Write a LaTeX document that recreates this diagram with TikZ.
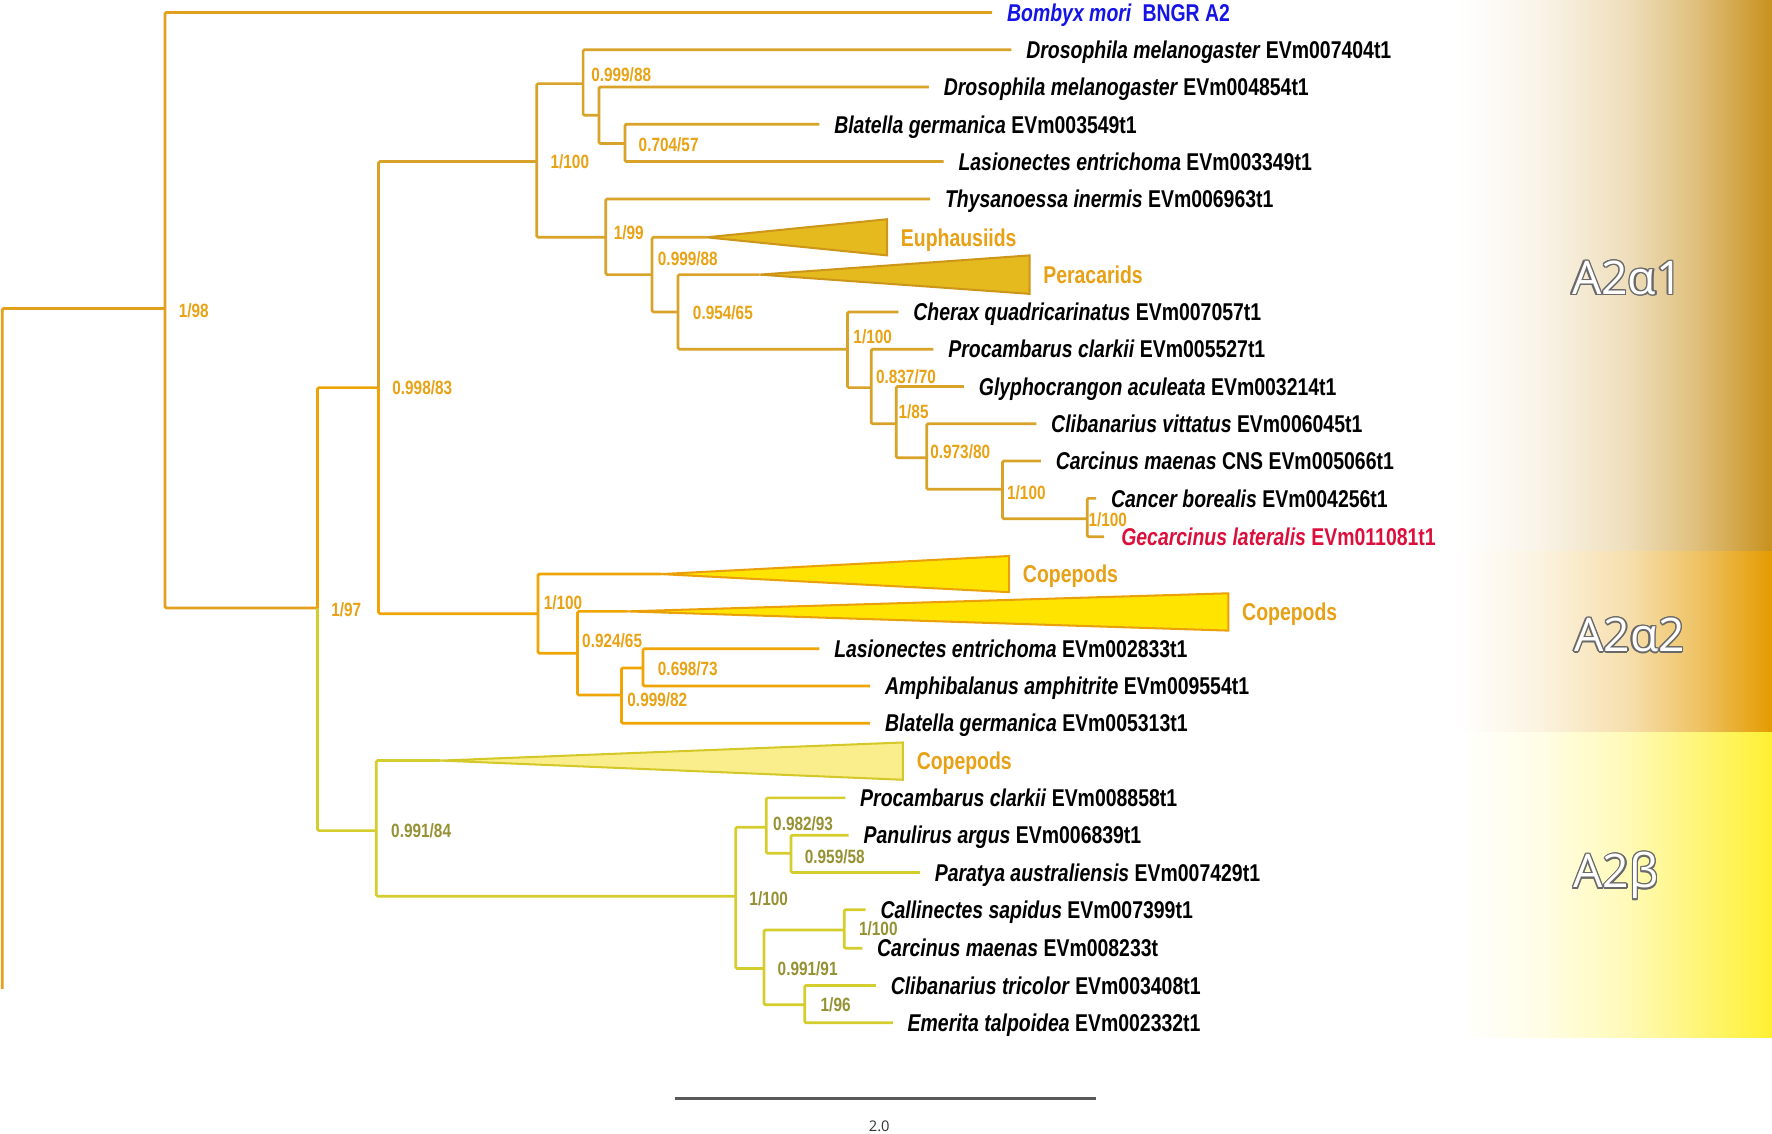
\documentclass[tikz,border=0pt]{standalone}
\usepackage{fontspec}
\newfontfamily\tf{Liberation Sans}[FakeStretch=0.8]
\newfontfamily\cf{Open Sans}
\definecolor{cRoot}{RGB}{226,160,28}
\definecolor{cOr}{RGB}{236,163,8}
\definecolor{cA1}{RGB}{216,163,40}
\definecolor{cA2}{RGB}{238,165,5}
\definecolor{cB}{RGB}{212,205,45}
\definecolor{supO}{RGB}{232,162,20}
\definecolor{supB}{RGB}{150,145,50}
\definecolor{grpc}{RGB}{232,160,20}
\definecolor{triAf}{RGB}{228,186,30}
\definecolor{triAd}{RGB}{205,150,25}
\definecolor{triCf}{RGB}{255,228,0}
\definecolor{triCd}{RGB}{235,160,10}
\definecolor{triBf}{RGB}{250,238,140}
\definecolor{triBd}{RGB}{212,200,40}
\definecolor{pA1}{RGB}{200,145,30}
\definecolor{pA2}{RGB}{228,155,0}
\definecolor{pB}{RGB}{255,240,50}
\definecolor{bblue}{RGB}{20,20,230}
\definecolor{gred}{RGB}{220,15,60}
\definecolor{olgray}{RGB}{105,105,105}
\pgfdeclarehorizontalshading{gradA1}{100bp}{color(0bp)=(white); color(25bp)=(white); color(38bp)=(pA1!10!white); color(52bp)=(pA1!30!white); color(63bp)=(pA1!58!white); color(75bp)=(pA1); color(100bp)=(pA1)}
\pgfdeclarehorizontalshading{gradA2}{100bp}{color(0bp)=(white); color(25bp)=(white); color(38bp)=(pA2!12!white); color(52bp)=(pA2!32!white); color(63bp)=(pA2!60!white); color(75bp)=(pA2); color(100bp)=(pA2)}
\pgfdeclarehorizontalshading{gradB}{100bp}{color(0bp)=(white); color(25bp)=(white); color(38bp)=(pB!12!white); color(52bp)=(pB!35!white); color(63bp)=(pB!65!white); color(75bp)=(pB); color(100bp)=(pB)}
\begin{document}
\begin{tikzpicture}[x=1pt,y=-1pt,
  br/.style={line width=2.4pt, rounded corners=1.2pt},
  taxon/.style={anchor=west, inner sep=0pt, inner xsep=13pt, text height=15.4pt, text depth=0pt, font={\tf\bfseries\fontsize{21.5}{24}\selectfont}},
  grp/.style={anchor=west, inner sep=0pt, inner xsep=12pt, text height=15.4pt, text depth=0pt, text=grpc, font={\tf\bfseries\fontsize{21.5}{24}\selectfont}},
  supp/.style={anchor=west, inner sep=0pt, text height=12.2pt, text depth=0pt, text=supO, font={\tf\bfseries\fontsize{17}{19}\selectfont}},
  suppb/.style={supp, text=supB},
  triA/.style={fill=triAf, draw=triAd, line width=1.8pt, line join=miter},
  triC/.style={fill=triCf, draw=triCd, line width=1.8pt, line join=miter},
  triB/.style={fill=triBf, draw=triBd, line width=1.8pt, line join=miter},
  clab/.style={font={\cf\fontsize{41}{44}\selectfont}, inner sep=0pt}
]
\useasboundingbox (0,0) rectangle (1568,1003);
% background panels
\shade[shading=gradA1] (1290,0) rectangle (1568,488);
\shade[shading=gradA2] (1290,488) rectangle (1568,648);
\shade[shading=gradB] (1290,648) rectangle (1568,918);
% panel labels (outlined)
\foreach \p/\t in {{(1440,246)}/{A2α1},{(1442,562)}/{A2α2},{(1430,775)}/{A2β}}{
  \foreach \a in {0,30,...,330}{
    \path \p ++(\a:1.2pt) node[clab,text=olgray] {\t};
  }
  \node[clab,text=white] at \p {\t};
}
% internal nodes
\coordinate (root) at (2,875);
\coordinate (A) at (146,273);
\coordinate (B) at (281,538);
\coordinate (C) at (335,343);
\coordinate (D) at (475,143);
\coordinate (E) at (516,74);
\coordinate (G) at (530,102);
\coordinate (H) at (553,127);
\coordinate (F) at (536,210);
\coordinate (I) at (577,243);
\coordinate (J) at (600,276);
\coordinate (K) at (750,309);
\coordinate (L) at (771,343);
\coordinate (M) at (793,375);
\coordinate (N) at (820,405);
\coordinate (O) at (887,433);
\coordinate (P) at (962,459);
\coordinate (Q) at (476,543);
\coordinate (R) at (511,578);
\coordinate (S) at (550,615);
\coordinate (T) at (569,591);
\coordinate (U) at (333,735);
\coordinate (V) at (651,793);
\coordinate (W) at (678,732);
\coordinate (Y) at (700,755);
\coordinate (X) at (676,857);
\coordinate (Z) at (747,823);
\coordinate (AA) at (712,889);
% triangle apices
\coordinate (eu) at (625,210);
\coordinate (pe) at (672,243);
\coordinate (cp1) at (585,508);
\coordinate (cp2) at (555,541);
\coordinate (cp3) at (390,673);
% taxa
\node[taxon,text=bblue] (t1) at (878,11) {\textit{Bombyx mori}\ \ BNGR A2};
\node[taxon] (t2) at (895,44) {\textit{Drosophila melanogaster} EVm007404t1};
\node[taxon] (t3) at (822,77) {\textit{Drosophila melanogaster} EVm004854t1};
\node[taxon] (t4) at (725,110) {\textit{Blatella germanica} EVm003549t1};
\node[taxon] (t5) at (835,143) {\textit{Lasionectes entrichoma} EVm003349t1};
\node[taxon] (t6) at (823,176) {\textit{Thysanoessa inermis} EVm006963t1};
\node[taxon] (t9) at (795,276) {\textit{Cherax quadricarinatus} EVm007057t1};
\node[taxon] (t10) at (826,309) {\textit{Procambarus clarkii} EVm005527t1};
\node[taxon] (t11) at (853,342) {\textit{Glyphocrangon aculeata} EVm003214t1};
\node[taxon] (t12) at (917,375) {\textit{Clibanarius vittatus} EVm006045t1};
\node[taxon] (t13) at (921,408) {\textit{Carcinus maenas} CNS EVm005066t1};
\node[taxon] (t14) at (970,441) {\textit{Cancer borealis} EVm004256t1};
\node[taxon,text=gred,inner xsep=15pt] (t15) at (977,475) {\textit{Gecarcinus lateralis} EVm011081t1};
\node[taxon] (t18) at (725,574) {\textit{Lasionectes entrichoma} EVm002833t1};
\node[taxon] (t19) at (770,607) {\textit{Amphibalanus amphitrite} EVm009554t1};
\node[taxon] (t20) at (770,640) {\textit{Blatella germanica} EVm005313t1};
\node[taxon] (t22) at (748,706) {\textit{Procambarus clarkii} EVm008858t1};
\node[taxon] (t23) at (751,739) {\textit{Panulirus argus} EVm006839t1};
\node[taxon] (t24) at (814,772) {\textit{Paratya australiensis} EVm007429t1};
\node[taxon] (t25) at (766,805) {\textit{Callinectes sapidus} EVm007399t1};
\node[taxon] (t26) at (763,839) {\textit{Carcinus maenas} EVm008233t};
\node[taxon] (t27) at (775,872) {\textit{Clibanarius tricolor} EVm003408t1};
\node[taxon] (t28) at (790,905) {\textit{Emerita talpoidea} EVm002332t1};
% branches
\draw[br,cRoot] (root) |- (A);
\draw[br,cRoot] (A) |- (t1.west) (A) |- (B);
\draw[br,cOr] (B) |- (C);
\draw[br,cB] (B) |- (U);
\draw[br,cA1] (C) |- (D);
\draw[br,cA2] (C) |- (Q);
\draw[br,cA1] (D) |- (E) (D) |- (F);
\draw[br,cA1] (E) |- (t2.west) (E) |- (G);
\draw[br,cA1] (G) |- (t3.west) (G) |- (H);
\draw[br,cA1] (H) |- (t4.west) (H) |- (t5.west);
\draw[br,cA1] (F) |- (t6.west) (F) |- (I);
\draw[br,cA1] (I) |- (eu) (I) |- (J);
\draw[br,cA1] (J) |- (pe) (J) |- (K);
\draw[br,cA1] (K) |- (t9.west) (K) |- (L);
\draw[br,cA1] (L) |- (t10.west) (L) |- (M);
\draw[br,cA1] (M) |- (t11.west) (M) |- (N);
\draw[br,cA1] (N) |- (t12.west) (N) |- (O);
\draw[br,cA1] (O) |- (t13.west) (O) |- (P);
\draw[br,cA1] (P) |- (t14.west) (P) |- (t15.west);
\draw[br,cA2] (Q) |- (cp1) (Q) |- (R);
\draw[br,cA2] (R) |- (cp2) (R) |- (S);
\draw[br,cA2] (S) |- (T) (S) |- (t20.west);
\draw[br,cA2] (T) |- (t18.west) (T) |- (t19.west);
\draw[br,cB] (U) |- (cp3) (U) |- (V);
\draw[br,cB] (V) |- (W) (V) |- (X);
\draw[br,cB] (W) |- (t22.west) (W) |- (Y);
\draw[br,cB] (Y) |- (t23.west) (Y) |- (t24.west);
\draw[br,cB] (X) |- (Z) (X) |- (AA);
\draw[br,cB] (Z) |- (t25.west) (Z) |- (t26.west);
\draw[br,cB] (AA) |- (t27.west) (AA) |- (t28.west);
% collapsed clades
\filldraw[triA] (eu) -- (785,194) -- (785,226) -- cycle;
\filldraw[triA] (pe) -- (911,226) -- (911,260) -- cycle;
\filldraw[triC] (cp1) -- (893,492) -- (893,524) -- cycle;
\filldraw[triC] (cp2) -- (1087,525) -- (1087,558) -- cycle;
\filldraw[triB] (cp3) -- (799,657) -- (799,690) -- cycle;
\node[grp] (geu) at (785,210) {Euphausiids};
\node[grp] (gpe) at (911,243) {Peracarids};
\node[grp] (gc1) at (893,508) {Copepods};
\node[grp] (gc2) at (1087,541) {Copepods};
\node[grp] (gc3) at (799,673) {Copepods};
% supports
\node[supp] (sA) at (158,275) {1/98};
\node[supp] (sB) at (293,539) {1/97};
\node[supp] (sC) at (347,343) {0.998/83};
\node[supp] (sD) at (487,143) {1/100};
\node[supp] (sE) at (523,66) {0.999/88};
\node[supp] (sH) at (565,128) {0.704/57};
\node[supp] (sF) at (543,206) {1/99};
\node[supp] (sI) at (582,229) {0.999/88};
\node[supp] (sJ) at (613,277) {0.954/65};
\node[supp] (sK) at (755,298) {1/100};
\node[supp] (sL) at (775,333) {0.837/70};
\node[supp] (sM) at (795,364) {1/85};
\node[supp] (sN) at (823,400) {0.973/80};
\node[supp] (sO) at (891,436) {1/100};
\node[supp] (sP) at (963,460) {1/100};
\node[supp] (sQ) at (481,533) {1/100};
\node[supp] (sR) at (515,567) {0.924/65};
\node[supp] (sT) at (582,592) {0.698/73};
\node[supp] (sS) at (555,619) {0.999/82};
\node[suppb] (sU) at (346,735) {0.991/84};
\node[suppb] (sW) at (684,729) {0.982/93};
\node[suppb] (sY) at (712,758) {0.959/58};
\node[suppb] (sV) at (663,795) {1/100};
\node[suppb] (sZ) at (760,822) {1/100};
\node[suppb] (sX) at (688,857) {0.991/91};
\node[suppb] (sAA) at (726,889) {1/96};
% scale bar
\coordinate (sb1) at (597,972);
\coordinate (sb2) at (970,972);
\draw[line width=2.2pt, color=black!65] (sb1) -- (sb2);
\node[font={\cf\fontsize{13}{15}\selectfont}, text=black!80, inner sep=0pt] (sbl) at (778,997) {2.0};
\end{tikzpicture}
\end{document}
